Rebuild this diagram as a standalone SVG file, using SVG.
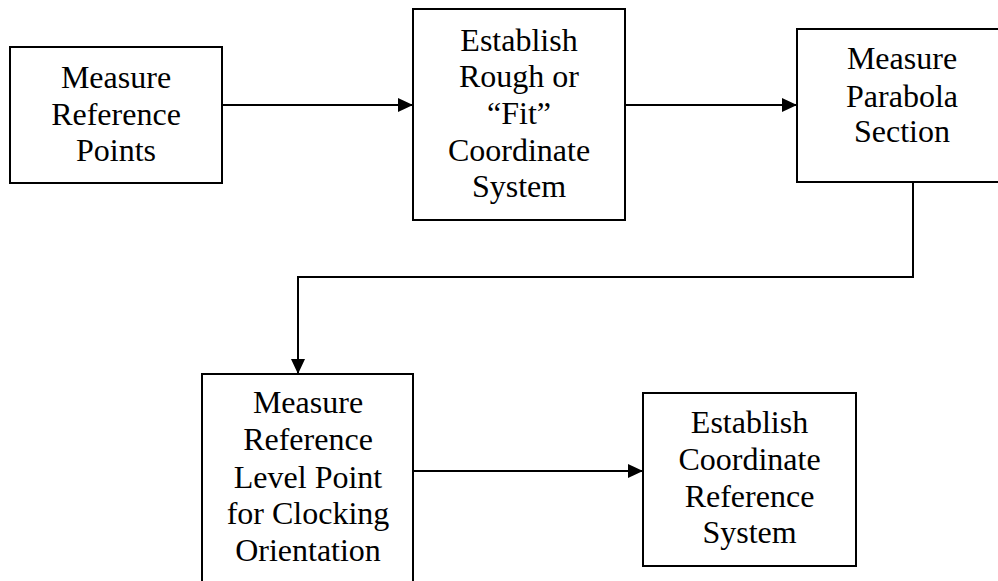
<svg xmlns="http://www.w3.org/2000/svg" width="998" height="581" viewBox="0 0 998 581">
<style>
.box{fill:#fff;stroke:#000;stroke-width:2}
.lbl{font-family:"Liberation Serif","Times New Roman",serif;font-size:32px;fill:#000;text-anchor:middle}
.conn{fill:none;stroke:#000;stroke-width:2}
</style>
<defs>
<marker id="arr" markerUnits="userSpaceOnUse" markerWidth="16" markerHeight="16" viewBox="0 0 16 16" refX="15" refY="8" orient="auto">
<path d="M0,1 L15,8 L0,15 Z" fill="#000"/>
</marker>
</defs>
<rect width="998" height="581" fill="#fff"/>
<g id="n1">
<rect class="box" x="10" y="47" width="212" height="136"/>
<text class="lbl" x="116" y="88">Measure</text>
<text class="lbl" x="116" y="125">Reference</text>
<text class="lbl" x="116" y="161">Points</text>
</g>
<g id="n2">
<rect class="box" x="413" y="9" width="212" height="211"/>
<text class="lbl" x="519" y="51">Establish</text>
<text class="lbl" x="519" y="87">Rough or</text>
<text class="lbl" x="519" y="124">“Fit”</text>
<text class="lbl" x="519" y="161">Coordinate</text>
<text class="lbl" x="519" y="197">System</text>
</g>
<g id="n3">
<rect class="box" x="797" y="29" width="212" height="153"/>
<text class="lbl" x="902" y="69">Measure</text>
<text class="lbl" x="902" y="107">Parabola</text>
<text class="lbl" x="902" y="142">Section</text>
</g>
<g id="n4">
<rect class="box" x="202" y="374" width="211" height="220"/>
<text class="lbl" x="308" y="413">Measure</text>
<text class="lbl" x="308" y="450">Reference</text>
<text class="lbl" x="308" y="488">Level Point</text>
<text class="lbl" x="308" y="524">for Clocking</text>
<text class="lbl" x="308" y="561">Orientation</text>
</g>
<g id="n5">
<rect class="box" x="643" y="393" width="213" height="173"/>
<text class="lbl" x="749.5" y="433">Establish</text>
<text class="lbl" x="749.5" y="470">Coordinate</text>
<text class="lbl" x="749.5" y="507">Reference</text>
<text class="lbl" x="749.5" y="543">System</text>
</g>
<g id="connectors">
<path class="conn" d="M222 105 H413" marker-end="url(#arr)"/>
<path class="conn" d="M625 105 H797" marker-end="url(#arr)"/>
<path class="conn" d="M913 182 V277 H298 V374" marker-end="url(#arr)"/>
<path class="conn" d="M413 471 H643" marker-end="url(#arr)"/>
</g>
</svg>
